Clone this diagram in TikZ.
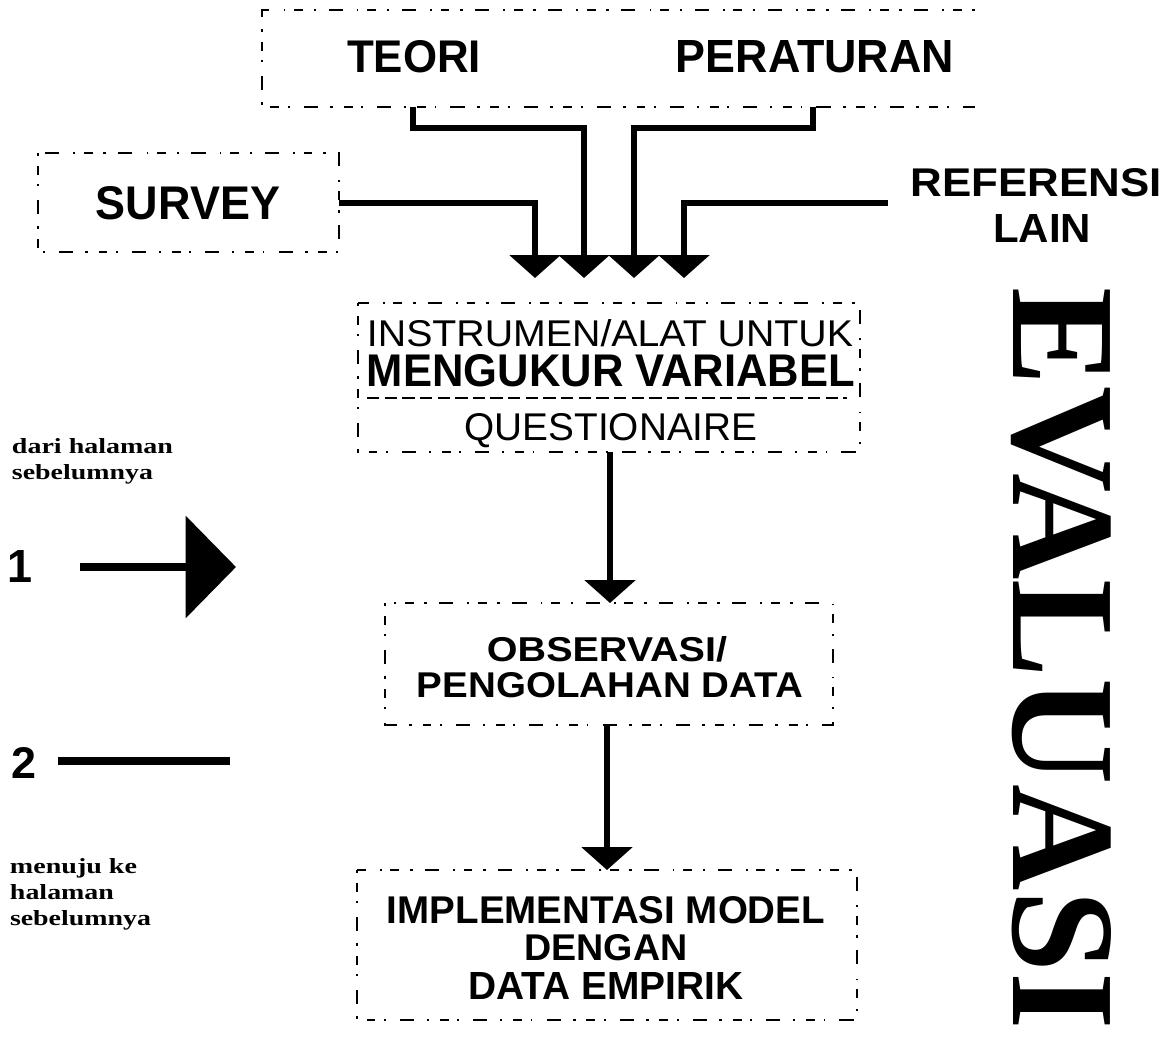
\documentclass[tikz,border=0pt]{standalone}
\usepackage{fontspec}
\usepackage{graphicx}
\usetikzlibrary{arrows.meta}
\newfontfamily\hv{Liberation Sans}
\newfontfamily\tm{Liberation Serif}
\newlength\pxu
\setlength\pxu{0.5669pt}
% scale a label to a given width and height above the baseline (pixel units)
\newcommand\fitlbl[3]{\resizebox{#1\pxu}{#2\pxu}{#3}}
\begin{document}
\begin{tikzpicture}[x=0.5669pt,y=-0.5669pt,
  brk/.style={line width=0.8pt,dash pattern=on 1.5pt off 6pt on 5pt off 5pt on 1pt off 8pt on 8pt off 7pt},
  conn/.style={line width=2.9pt},
  tip/.style={-{Triangle[width=28.5pt,length=13pt]}},
  lbl/.style={inner sep=0pt,outer sep=0pt},
  note/.style={inner sep=0pt,outer sep=0pt,anchor=base west}]
\useasboundingbox (0,0) rectangle (1175,1037);
\fill[white] (0,0) rectangle (1175,1037);

% source boxes
\draw[brk] (975,10) -- (262,10) -- (262,107) -- (975,107);
\draw[brk] (38,153) rectangle (339,252);

\node[lbl] (teori) at (414,57) {\fitlbl{134}{32}{\hv\bfseries TEORI}};
\node[lbl] (perat) at (815,57) {\fitlbl{278}{32}{\hv\bfseries PERATURAN}};
\node[lbl] (survey) at (188,203) {\fitlbl{184}{33}{\hv\bfseries SURVEY}};
\node[lbl] (ref) at (1036,183) {\fitlbl{251}{28}{\hv\bfseries REFERENSI}};
\node[lbl] (lain) at (1042,229) {\fitlbl{98}{28}{\hv\bfseries LAIN}};

% connector ends
\coordinate (tout) at (413,107);
\coordinate (pout) at (813,107);
\coordinate (sout) at (339,203);
\coordinate (rout) at (888,203);
\coordinate (a1) at (535,278);
\coordinate (a2) at (584,278);
\coordinate (a3) at (634,278);
\coordinate (a4) at (684,278);

\draw[conn,tip] (tout) -- ++(0,21) -| (a2);
\draw[conn,tip] (pout) -- ++(0,21) -| (a3);
\draw[conn,tip] (sout) -| (a1);
\draw[conn,tip] (rout) -| (a4);

% instrument box
\draw[brk] (358,303) rectangle (860,452);
\node[lbl] (instr) at (610,333) {\fitlbl{486}{27}{\hv INSTRUMEN/ALAT UNTUK}};
\node[lbl] (ukur) at (611,371) {\fitlbl{488}{32}{\hv\bfseries MENGUKUR VARIABEL}};
\draw[line width=1.6pt,dash pattern=on 7pt off 3pt] (367,398) -- (847,398);
\node[lbl,anchor=base] (quest) at (611,440) {\fitlbl{293}{27}{\hv QUESTIONAIRE}};

% observation box
\draw[brk] (385,603) rectangle (833,725);
\node[lbl] (obs) at (607,649) {\fitlbl{240}{25}{\hv\bfseries OBSERVASI/}};
\node[lbl] (olah) at (610,685) {\fitlbl{386}{25}{\hv\bfseries PENGOLAHAN DATA}};

% implementation box
\draw[brk] (357,870) rectangle (857,1020);
\node[lbl] (impl) at (606,910) {\fitlbl{438}{27}{\hv\bfseries IMPLEMENTASI MODEL}};
\node[lbl] (deng) at (606,948) {\fitlbl{163}{26}{\hv\bfseries DENGAN}};
\node[lbl] (emp) at (606,986) {\fitlbl{275}{27}{\hv\bfseries DATA EMPIRIK}};

\coordinate (ibot) at (610,452);
\coordinate (otop) at (610,603);
\coordinate (obot) at (607,725);
\coordinate (mtop) at (607,870);
\draw[conn,tip] (ibot) -- (otop);
\draw[conn,tip] (obot) -- (mtop);

% page connectors
\node[note] (dari1) at (12,453) {\fitlbl{161}{15}{\tm\bfseries dari halaman}};
\node[note] (dari2) at (12,479) {\fitlbl{141}{15}{\tm\bfseries sebelumnya}};
\node[note] (one) at (8,582) {\fitlbl{25}{32}{\hv\bfseries 1}};
\coordinate (ones) at (80,567);
\coordinate (onee) at (236,567);
\draw[line width=4.8pt,-{Triangle[width=57pt,length=28.5pt]}] (ones) -- (onee);
\node[note] (two) at (11,778) {\fitlbl{25}{31}{\hv\bfseries 2}};
\coordinate (twos) at (58,761);
\coordinate (twoe) at (230,761);
\draw[line width=4pt] (twos) -- (twoe);
\node[note] (menu1) at (10,873) {\fitlbl{127}{15}{\tm\bfseries menuju ke}};
\node[note] (menu2) at (10,899) {\fitlbl{104}{15}{\tm\bfseries halaman}};
\node[note] (menu3) at (10,925) {\fitlbl{141}{15}{\tm\bfseries sebelumnya}};

% side title
\node[lbl,rotate=-90] (evaluasi) at (1061,659) {\fitlbl{742}{98}{\tm\bfseries EVALUASI}};
\end{tikzpicture}
\end{document}
